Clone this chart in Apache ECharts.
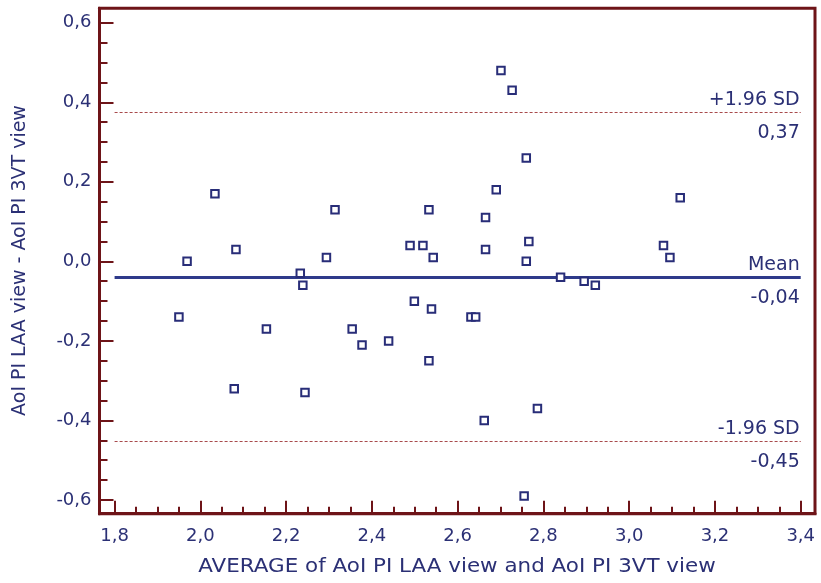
<!DOCTYPE html>
<html>
<head>
<meta charset="utf-8">
<script src="https://cdn.jsdelivr.net/npm/echarts@6/dist/echarts.min.js"></script>
<style>
html,body{margin:0;padding:0;background:#fff;}
#chart{width:821px;height:583px;}
</style>
</head>
<body>
<div id="chart"></div>
<script>
// ---- data (Bland-Altman plot) ----
const averages = [1.950, 1.969, 2.034, 2.083, 2.079, 2.154, 2.233, 2.239, 2.244, 2.294,
                  2.314, 2.354, 2.377, 2.439, 2.489, 2.499, 2.519, 2.533, 2.539, 2.533,
                  2.543, 2.631, 2.642, 2.662, 2.665, 2.665, 2.690, 2.701, 2.727, 2.760,
                  2.755, 2.760, 2.766, 2.786, 2.840, 2.895, 2.921, 3.080, 3.095, 3.119];
const differences = [-0.14, 0.00, 0.17, 0.03, -0.32, -0.17, -0.03, -0.06, -0.33, 0.01,
                      0.13, -0.17, -0.21, -0.20, 0.04, -0.10, 0.04, 0.13, -0.12, -0.25,
                      0.01, -0.14, -0.14, -0.40, 0.11, 0.03, 0.18, 0.48, 0.43, 0.26,
                     -0.59, 0.00, 0.05, -0.37, -0.04, -0.05, -0.06, 0.04, 0.01, 0.16];
const meanDiff = -0.041;
const upperLimit = 0.374;
const lowerLimit = -0.452;
const limitNames = ['+1.96 SD', 'Mean', '-1.96 SD'];
const xTicks = [1.8, 2.0, 2.2, 2.4, 2.6, 2.8, 3.0, 3.2, 3.4];
const yTicks = [-0.6, -0.4, -0.2, 0.0, 0.2, 0.4, 0.6];
const xMinorTicks = [];
for (let i = 0; i < xTicks.length - 1; i++) for (let k = 1; k < 4; k++) xMinorTicks.push(+(xTicks[i] + k * 0.05).toFixed(2));
const yMinorTicks = [];
for (let i = 0; i < yTicks.length - 1; i++) for (let k = 1; k < 4; k++) yMinorTicks.push(+(yTicks[i] + k * 0.05).toFixed(2));
const xTitle = 'AVERAGE of AoI PI LAA view and AoI PI 3VT view';
const yTitle = 'AoI PI LAA view - AoI PI 3VT view';

// ---- styling ----
const axisColor = '#6e1418';
const textColor = '#2b3075';
const pointColor = '#282d78';
const meanColor = '#2e3a8a';
const sdColor = '#a84a4c';
const tickFont = 'DejaVu Sans';
const xRange = [1.7648, 3.4333];
const yRange = [-0.6344, 0.6362];
const lineStart = xTicks[0], lineEnd = xTicks[xTicks.length - 1];
const fmt = v => (Math.round(v * 10) / 10).toFixed(1).replace('.', ',');
const fmt2 = v => v.toFixed(2).replace('.', ',');

const chart = echarts.init(document.getElementById('chart'), null, {renderer: 'canvas'});

function limitLine(value, name, style) {
  const lbl = {fontFamily: tickFont, fontSize: 19, color: textColor, opacity: 1};
  return [
    [{coord: [lineStart, value], lineStyle: style,
      label: Object.assign({show: true, position: 'insideEndTop', formatter: name, distance: [1, 3]}, lbl)},
     {coord: [lineEnd, value], lineStyle: style}],
    [{coord: [lineStart, value], lineStyle: {color: 'rgba(255,255,255,0)', width: 0, opacity: 1},
      label: Object.assign({show: true, position: 'insideEndBottom', formatter: fmt2(value), distance: [1, 11]}, lbl)},
     {coord: [lineEnd, value]}]
  ];
}

const option = {
  animation: false,
  backgroundColor: '#ffffff',
  grid: {left: 99.5, top: 8.3, right: 6, bottom: 69.3, show: true,
         borderColor: axisColor, borderWidth: 3, backgroundColor: 'transparent'},
  xAxis: [{
    type: 'value', min: xRange[0], max: xRange[1], position: 'bottom',
    axisLine: {show: true, onZero: false, lineStyle: {color: axisColor, width: 3}},
    axisTick: {show: true, inside: true, length: 13, customValues: xTicks, lineStyle: {color: axisColor, width: 2}},
    axisLabel: {show: true, customValues: xTicks, formatter: fmt, margin: 14,
                fontFamily: tickFont, fontSize: 18, color: textColor},
    splitLine: {show: false}
  }, {
    type: 'value', min: xRange[0], max: xRange[1], position: 'bottom',
    axisLine: {show: false, onZero: false},
    axisTick: {show: true, inside: true, length: 7, customValues: xMinorTicks, lineStyle: {color: axisColor, width: 2}},
    axisLabel: {show: false},
    splitLine: {show: false}
  }],
  yAxis: [{
    type: 'value', min: yRange[0], max: yRange[1], position: 'left',
    axisLine: {show: true, onZero: false, lineStyle: {color: axisColor, width: 3}},
    axisTick: {show: true, inside: true, length: 14, customValues: yTicks, lineStyle: {color: axisColor, width: 2}},
    axisLabel: {show: true, customValues: yTicks, formatter: fmt, margin: 8,
                fontFamily: tickFont, fontSize: 18, color: textColor},
    splitLine: {show: false}
  }, {
    type: 'value', min: yRange[0], max: yRange[1], position: 'left',
    axisLine: {show: false, onZero: false},
    axisTick: {show: true, inside: true, length: 8, customValues: yMinorTicks, lineStyle: {color: axisColor, width: 2}},
    axisLabel: {show: false},
    splitLine: {show: false}
  }],
  series: [{
    type: 'scatter',
    xAxisIndex: 0, yAxisIndex: 0,
    symbol: 'rect', symbolSize: 7.5,
    itemStyle: {color: '#ffffff', borderColor: pointColor, borderWidth: 2, opacity: 1},
    data: averages.map((a, i) => [a, differences[i]]),
    z: 5,
    markLine: {
      silent: true, symbol: 'none', animation: false,
      data: [].concat(
        limitLine(upperLimit, limitNames[0], {color: sdColor, width: 1, type: [3, 2], opacity: 1}),
        limitLine(meanDiff, limitNames[1], {color: meanColor, width: 3, type: 'solid', opacity: 1}),
        limitLine(lowerLimit, limitNames[2], {color: sdColor, width: 1, type: [3, 2], opacity: 1})
      )
    }
  }],
  graphic: [{
    type: 'text', x: 457, y: 567, scaleX: 1.128,
    style: {text: xTitle, font: '19px "DejaVu Sans"', fill: textColor, align: 'center', verticalAlign: 'middle'}
  }, {
    type: 'text', x: 20, y: 260.5, rotation: Math.PI / 2, scaleX: 1.0,
    style: {text: yTitle, font: '19px "DejaVu Sans"', fill: textColor, align: 'center', verticalAlign: 'middle'}
  }]
};
chart.setOption(option);
</script>
</body>
</html>
